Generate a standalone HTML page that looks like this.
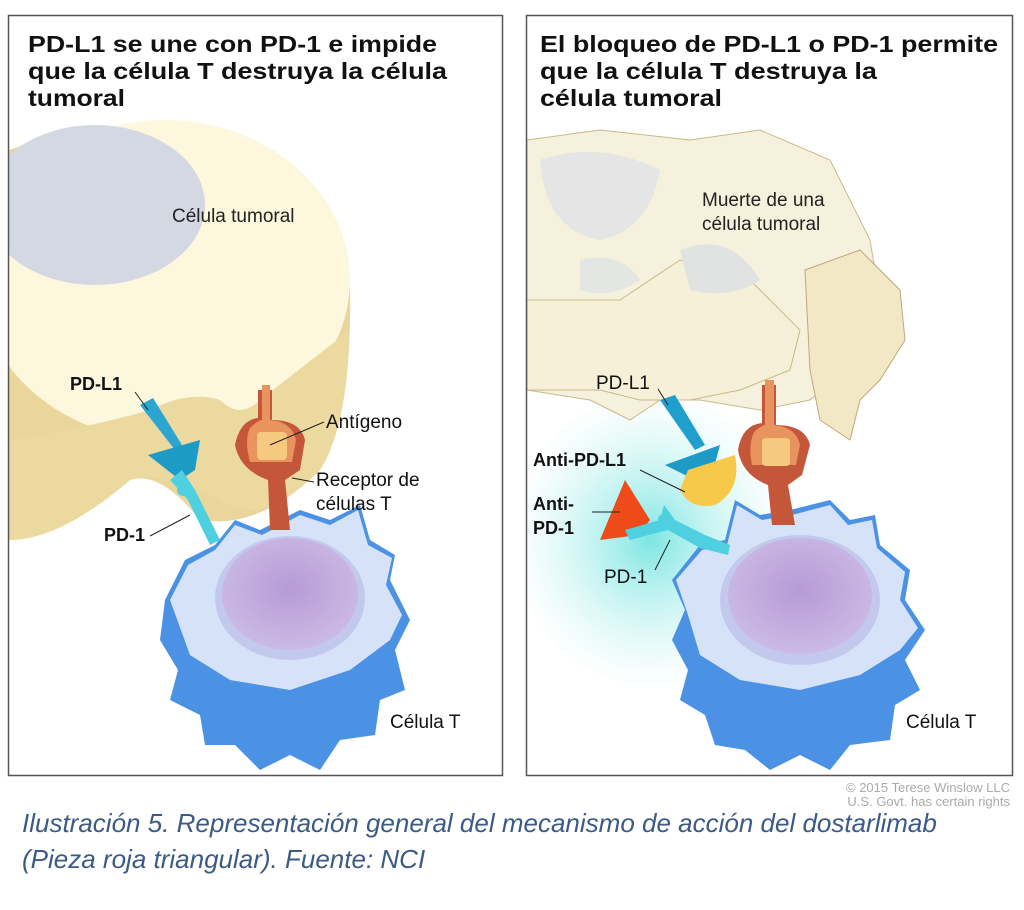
<!DOCTYPE html>
<html><head><meta charset="utf-8"><style>
body{margin:0;background:#fff;width:1024px;height:910px;overflow:hidden;font-family:"Liberation Sans",Arial,sans-serif}
.cap{position:absolute;left:22px;top:805px;font-family:"Liberation Sans",sans-serif;font-style:italic;color:#3b5a86;font-size:26px;line-height:36px;white-space:nowrap}
</style></head><body>
<svg width="1024" height="910" style="position:absolute;left:0;top:0">
<defs>
<radialGradient id="glow" cx="0.5" cy="0.5" r="0.5"><stop offset="0" stop-color="#6fe3e0" stop-opacity="0.9"/><stop offset="1" stop-color="#bff3ef" stop-opacity="0"/></radialGradient>
<radialGradient id="nuc" cx="0.5" cy="0.45" r="0.6"><stop offset="0" stop-color="#b79ad6"/><stop offset="1" stop-color="#cdbde6"/></radialGradient>
<clipPath id="cl"><rect x="9" y="16" width="493" height="759"/></clipPath>
<clipPath id="cr"><rect x="527" y="16" width="485" height="759"/></clipPath>
</defs>
<!-- LEFT PANEL -->
<g clip-path="url(#cl)">
<rect x="9" y="16" width="493" height="759" fill="#fff"/>
<path d="M9 150 Q120 110 230 140 Q330 180 350 290 Q352 420 320 470 Q260 530 200 520 Q160 470 130 480 Q60 540 9 540 Z" fill="#ead69a"/>
<ellipse cx="165" cy="280" rx="185" ry="160" fill="#fdf8dd"/>
<path d="M9 440 Q80 430 150 410 Q190 390 220 400 Q240 420 260 400 L350 330 L350 290 Q352 420 320 470 Q260 530 220 500 Q160 470 130 480 Q60 540 9 540 Z" fill="#ecd9a0"/>
<ellipse cx="95" cy="205" rx="110" ry="80" fill="#d4d8e2"/>
</g>
<rect x="8.5" y="15.5" width="494" height="760" fill="none" stroke="#555" stroke-width="1.5"/>
<text x="28" y="52" font-size="23" font-weight="bold" fill="#111" textLength="409" lengthAdjust="spacingAndGlyphs">PD-L1 se une con PD-1 e impide</text>
<text x="28" y="79" font-size="23" font-weight="bold" fill="#111" textLength="419" lengthAdjust="spacingAndGlyphs">que la célula T destruya la célula</text>
<text x="28" y="106" font-size="23" font-weight="bold" fill="#111" textLength="97" lengthAdjust="spacingAndGlyphs">tumoral</text>
<text x="172" y="222" font-size="19" fill="#222">Célula tumoral</text>
<!-- T cell left -->
<g>
<path d="M165 600 L185 560 L215 545 L235 520 L260 530 L300 510 L330 520 L360 505 L370 540 L395 555 L390 580 L410 620 L395 650 L405 690 L380 700 L375 735 L340 740 L320 770 L290 755 L260 770 L235 745 L205 745 L200 715 L170 700 L178 670 L160 640 Z" fill="#4c92e4"/>
<path d="M170 600 L188 565 L215 550 L235 525 L262 535 L300 515 L330 525 L358 510 L368 545 L392 558 L386 585 L402 615 L390 640 L350 670 L290 690 L230 680 L190 655 Z" fill="#d6e2f7"/>
<ellipse cx="290" cy="598" rx="75" ry="62" fill="#c3c9ec"/>
<ellipse cx="290" cy="594" rx="68" ry="56" fill="url(#nuc)"/>
</g>
<!-- TCR left -->
<path d="M258 390 L272 390 L272 420 Q300 420 305 440 L300 470 L285 480 L290 530 L270 530 L268 480 Q240 470 235 445 Q240 420 258 418 Z" fill="#c4573a"/>
<path d="M262 385 L270 385 L270 420 Q292 422 296 440 L292 462 L250 462 Q244 440 250 428 Q258 420 262 420Z" fill="#e9935f"/>
<rect x="257" y="432" width="30" height="28" rx="4" fill="#f6c980"/>
<!-- PD-L1 / PD-1 left -->
<path d="M140 405 L153 398 L182 445 L175 450 Z" fill="#2aa6d0"/>
<path d="M148 455 L200 440 L195 470 L180 480 Z" fill="#1d9ac6"/>
<path d="M170 480 L182 470 L195 490 L220 540 L210 545 L188 500 Z" fill="#4ed0e0"/>
<circle cx="183" cy="490" r="6" fill="#4ed0e0"/>
<text x="70" y="390" font-size="18" font-weight="bold" fill="#111">PD-L1</text>
<line x1="135" y1="392" x2="148" y2="410" stroke="#222"/>
<text x="104" y="541" font-size="18" font-weight="bold" fill="#111">PD-1</text>
<line x1="150" y1="536" x2="190" y2="515" stroke="#222"/>
<text x="326" y="428" font-size="19" fill="#111">Antígeno</text>
<line x1="324" y1="422" x2="270" y2="445" stroke="#222"/>
<text x="316" y="486" font-size="19" fill="#111">Receptor de</text>
<text x="316" y="510" font-size="19" fill="#111">células T</text>
<line x1="314" y1="482" x2="292" y2="478" stroke="#222"/>
<text x="390" y="728" font-size="19" fill="#111">Célula T</text>

<!-- RIGHT PANEL -->
<g clip-path="url(#cr)">
<rect x="527" y="16" width="485" height="759" fill="#fff"/>
<ellipse cx="650" cy="540" rx="140" ry="150" fill="url(#glow)"/>
<path d="M527 140 L600 130 L690 140 L760 130 L830 160 L870 240 L880 300 L860 360 L810 400 L760 410 L700 400 L660 400 L630 420 L590 400 L527 390 Z" fill="#f6f1dc" stroke="#c8b98a" stroke-width="1"/>
<path d="M805 270 L860 250 L900 290 L905 340 L880 380 L860 400 L850 440 L820 420 L810 370 Z" fill="#f3e8c6" stroke="#bfa878"/>
<path d="M527 300 L620 300 L680 260 L750 280 L800 330 L790 370 L740 390 L690 400 L640 400 L600 390 L527 390 Z" fill="#f7f0d8" stroke="#c8b98a"/>
<path d="M540 160 Q600 140 660 170 Q650 230 600 240 Q545 230 540 160Z" fill="#e4e5e4"/>
<path d="M680 250 Q730 230 760 280 Q730 300 690 290Z" fill="#e1e3e2"/>
<path d="M580 260 Q620 250 640 280 Q610 300 580 290Z" fill="#e4e6e4"/>
</g>
<rect x="526.5" y="15.5" width="486" height="760" fill="none" stroke="#555" stroke-width="1.5"/>
<text x="540" y="52" font-size="23" font-weight="bold" fill="#111" textLength="458" lengthAdjust="spacingAndGlyphs">El bloqueo de PD-L1 o PD-1 permite</text>
<text x="540" y="79" font-size="23" font-weight="bold" fill="#111" textLength="337" lengthAdjust="spacingAndGlyphs">que la célula T destruya la</text>
<text x="540" y="106" font-size="23" font-weight="bold" fill="#111" textLength="182" lengthAdjust="spacingAndGlyphs">célula tumoral</text>
<text x="702" y="206" font-size="19" fill="#222">Muerte de una</text>
<text x="702" y="230" font-size="19" fill="#222">célula tumoral</text>
<!-- T cell right -->
<g>
<path d="M672 580 L700 545 L725 540 L735 500 L760 515 L790 510 L830 500 L850 520 L875 515 L880 545 L910 570 L905 600 L925 630 L905 660 L920 690 L895 705 L890 740 L850 745 L830 770 L800 755 L770 770 L745 750 L715 745 L705 715 L680 700 L688 670 L672 640 L685 610 Z" fill="#4c92e4"/>
<path d="M676 580 L702 550 L727 545 L737 505 L762 520 L792 515 L830 505 L848 525 L872 520 L877 548 L905 572 L900 600 L918 628 L900 650 L860 675 L800 690 L740 680 L700 655 L688 615 Z" fill="#d6e2f7"/>
<ellipse cx="800" cy="600" rx="80" ry="65" fill="#c3c9ec"/>
<ellipse cx="800" cy="596" rx="72" ry="58" fill="url(#nuc)"/>
</g>
<!-- TCR right -->
<path d="M762 385 L776 385 L776 425 Q805 425 810 445 L802 475 L788 485 L795 525 L772 525 L768 485 Q742 475 738 450 Q742 425 762 423 Z" fill="#c4573a"/>
<path d="M765 380 L774 380 L774 425 Q796 427 800 445 L796 465 L752 465 Q748 445 754 432 Q762 425 765 425Z" fill="#e9935f"/>
<rect x="762" y="438" width="28" height="28" rx="4" fill="#f6c980"/>
<!-- PD-L1 right -->
<path d="M660 400 L675 395 L705 445 L695 450 Z" fill="#1f9fcc"/>
<path d="M665 465 L720 445 L712 475 L695 480 Z" fill="#1d9ac6"/>
<path d="M688 470 L735 455 Q742 490 715 505 Q690 510 680 490 Z" fill="#f6c94a"/>
<!-- Anti-PD-1 & PD-1 right -->
<path d="M600 540 L625 480 L650 520 L638 535 Z" fill="#ee4a1a"/>
<path d="M625 530 L660 520 L664 505 L675 520 L705 535 L730 545 L728 555 L700 548 L668 530 L630 540 Z" fill="#4ed0e0"/>
<circle cx="664" cy="520" r="6" fill="#4ed0e0"/>
<text x="596" y="389" font-size="19" fill="#111">PD-L1</text>
<line x1="658" y1="389" x2="668" y2="405" stroke="#222"/>
<text x="533" y="466" font-size="18" font-weight="bold" fill="#111">Anti-PD-L1</text>
<line x1="640" y1="470" x2="685" y2="492" stroke="#222"/>
<text x="533" y="510" font-size="18" font-weight="bold" fill="#111">Anti-</text>
<text x="533" y="534" font-size="18" font-weight="bold" fill="#111">PD-1</text>
<line x1="592" y1="512" x2="620" y2="512" stroke="#222"/>
<text x="604" y="583" font-size="19" fill="#111">PD-1</text>
<line x1="655" y1="570" x2="670" y2="540" stroke="#222"/>
<text x="906" y="728" font-size="19" fill="#111">Célula T</text>
<text x="1010" y="792" font-size="13" fill="#aaa" text-anchor="end">© 2015 Terese Winslow LLC</text>
<text x="1010" y="806" font-size="13" fill="#aaa" text-anchor="end">U.S. Govt. has certain rights</text>
</svg>
<div class="cap">Ilustración 5. Representación general del mecanismo de acción del dostarlimab<br>(Pieza roja triangular). Fuente: NCI</div>
</body></html>
